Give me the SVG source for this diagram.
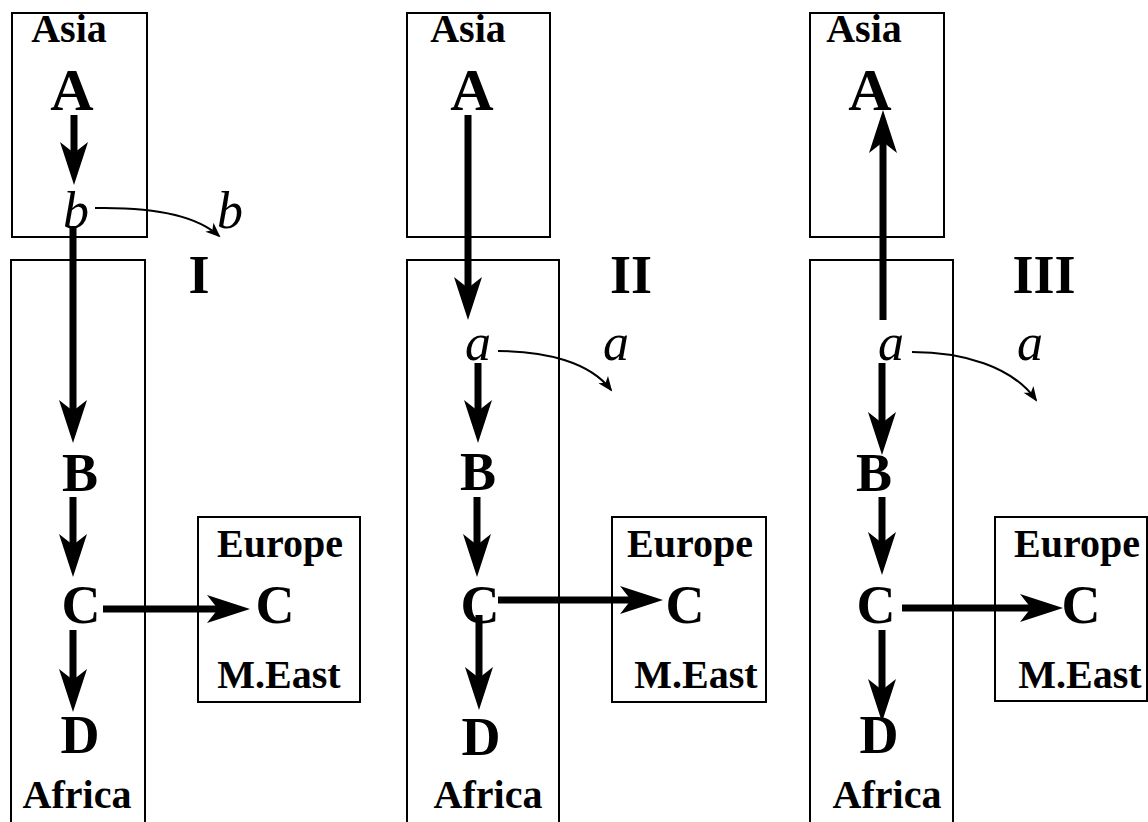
<svg xmlns="http://www.w3.org/2000/svg" width="1148" height="822" viewBox="0 0 1148 822">
<style>
.box{fill:none;stroke:#000;stroke-width:2}
.reg{font-family:"Liberation Serif","Times New Roman",serif;font-weight:bold;font-size:40px;text-anchor:middle;fill:#000}
.big{font-family:"Liberation Serif","Times New Roman",serif;font-weight:bold;font-size:54px;text-anchor:middle;fill:#000}
.bigA{font-size:60px}
.num{font-family:"Liberation Serif","Times New Roman",serif;font-weight:bold;font-size:54px;text-anchor:middle;fill:#000}
.it{font-family:"Liberation Serif","Times New Roman",serif;font-style:italic;font-size:52px;text-anchor:middle;fill:#000}
.thick{fill:none;stroke:#000;stroke-width:7;marker-end:url(#head)}
.thin{fill:none;stroke:#000;stroke-width:2;marker-end:url(#thinhead)}
</style>
<defs>
<marker id="head" markerUnits="userSpaceOnUse" orient="auto" refX="0" refY="0" markerWidth="60" markerHeight="40" overflow="visible">
<path d="M20,0 L-23,-14 L-12,0 L-23,14 Z" fill="#000"/>
</marker>
<marker id="thinhead" markerUnits="userSpaceOnUse" orient="auto" refX="0" refY="0" markerWidth="30" markerHeight="20" overflow="visible">
<path d="M2,0 L-13,-6 L-9,0 L-13,6 Z" fill="#000"/>
</marker>
</defs>

<!-- Panel I -->
<g id="asia1"><rect class="box" x="12" y="13" width="135" height="224"/><text class="reg" x="69" y="42">Asia</text></g>
<g id="africa1"><rect class="box" x="11" y="260" width="134" height="580"/><text class="reg" x="77" y="808">Africa</text></g>
<g id="europe1"><rect class="box" x="198" y="517" width="162" height="185"/><text class="reg" x="280" y="557">Europe</text><text class="reg" x="279" y="688">M.East</text></g>
<g id="I-A"><text class="big bigA" x="72" y="110">A</text></g>
<g id="I-b"><text class="it" x="76" y="228">b</text></g>
<g id="I-b2"><text class="it" x="230" y="228">b</text></g>
<g id="I-B"><text class="big" x="80" y="491">B</text></g>
<g id="I-C"><text class="big" x="81" y="623">C</text></g>
<g id="I-C2"><text class="big" x="275" y="623">C</text></g>
<g id="I-D"><text class="big" x="80" y="753">D</text></g>
<g id="I-label"><text class="num" x="199" y="293">I</text></g>

<!-- Panel II -->
<g id="asia2"><rect class="box" x="407" y="13" width="143" height="224"/><text class="reg" x="468" y="42">Asia</text></g>
<g id="africa2"><rect class="box" x="407" y="260" width="152" height="580"/><text class="reg" x="488" y="808">Africa</text></g>
<g id="europe2"><rect class="box" x="612" y="517" width="154" height="185"/><text class="reg" x="690" y="557">Europe</text><text class="reg" x="696" y="688">M.East</text></g>
<g id="II-A"><text class="big bigA" x="472" y="110">A</text></g>
<g id="II-a"><text class="it" x="478" y="360">a</text></g>
<g id="II-a2"><text class="it" x="616" y="360">a</text></g>
<g id="II-B"><text class="big" x="478" y="490">B</text></g>
<g id="II-C"><text class="big" x="480" y="623">C</text></g>
<g id="II-C2"><text class="big" x="685" y="623">C</text></g>
<g id="II-D"><text class="big" x="481" y="755">D</text></g>
<g id="II-label"><text class="num" x="631" y="293">II</text></g>

<!-- Panel III -->
<g id="asia3"><rect class="box" x="810" y="13" width="134" height="224"/><text class="reg" x="864" y="42">Asia</text></g>
<g id="africa3"><rect class="box" x="810" y="260" width="143" height="580"/><text class="reg" x="887" y="808">Africa</text></g>
<g id="europe3"><rect class="box" x="995" y="517" width="152" height="184"/><text class="reg" x="1077" y="557">Europe</text><text class="reg" x="1080" y="688">M.East</text></g>
<g id="III-A"><text class="big bigA" x="870" y="110">A</text></g>
<g id="III-a"><text class="it" x="891" y="360">a</text></g>
<g id="III-a2"><text class="it" x="1030" y="360">a</text></g>
<g id="III-B"><text class="big" x="874" y="491">B</text></g>
<g id="III-C"><text class="big" x="876" y="623">C</text></g>
<g id="III-C2"><text class="big" x="1081" y="623">C</text></g>
<g id="III-D"><text class="big" x="879" y="753">D</text></g>
<g id="III-label"><text class="num" x="1044" y="293">III</text></g>

<g id="connectors">
<!-- Panel I -->
<path class="thick" d="M74,115 L74,165"/>
<path class="thick" d="M73,226 L73,423"/>
<path class="thick" d="M73,497 L73,557"/>
<path class="thick" d="M73,630 L73,692"/>
<path class="thick" d="M103,609 L230,609"/>
<path class="thin" d="M95,208 C150,207 195,214 219,236"/>
<!-- Panel II -->
<path class="thick" d="M468,115 L468,300"/>
<path class="thick" d="M478,363 L478,423"/>
<path class="thick" d="M477,497 L477,557"/>
<path class="thick" d="M479,615 L479,690"/>
<path class="thick" d="M498,600 L643,600"/>
<path class="thin" d="M498,351 C545,351 590,362 611,390"/>
<!-- Panel III -->
<path class="thick" d="M883,320 L883,130"/>
<path class="thick" d="M882,363 L882,435"/>
<path class="thick" d="M882,497 L882,555"/>
<path class="thick" d="M882,630 L882,702"/>
<path class="thick" d="M902,608 L1043,608"/>
<path class="thin" d="M912,352 C962,352 1012,366 1036,400"/>
</g>
</svg>
